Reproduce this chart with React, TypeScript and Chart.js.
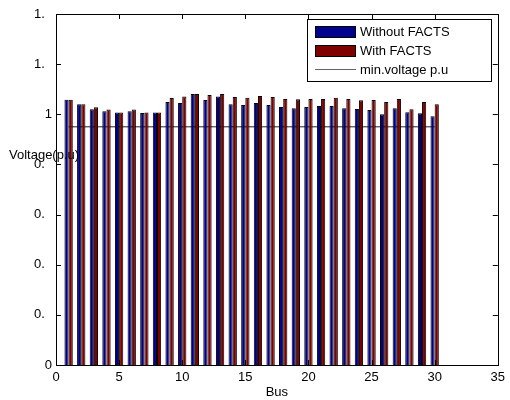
import React, { useEffect, useRef } from "react";
import { Chart, registerables } from "chart.js";

Chart.register(...registerables);

// Bus numbers 1..30
const buses: number[] = [
  1, 2, 3, 4, 5, 6, 7, 8, 9, 10, 11, 12, 13, 14, 15,
  16, 17, 18, 19, 20, 21, 22, 23, 24, 25, 26, 27, 28, 29, 30,
];

// Bus voltage magnitudes (p.u.)
const withoutFacts: number[] = [
  1.058, 1.04, 1.02, 1.012, 1.007, 1.012, 1.005, 1.007, 1.049, 1.045,
  1.081, 1.057, 1.071, 1.04, 1.037, 1.045, 1.037, 1.029, 1.024, 1.029,
  1.033, 1.033, 1.024, 1.021, 1.017, 1.0, 1.024, 1.008, 1.004, 0.992,
];
const withFacts: number[] = [
  1.058, 1.04, 1.028, 1.019, 1.007, 1.019, 1.007, 1.007, 1.065, 1.071,
  1.081, 1.077, 1.081, 1.069, 1.066, 1.073, 1.069, 1.061, 1.06, 1.061,
  1.061, 1.066, 1.061, 1.056, 1.057, 1.049, 1.061, 1.02, 1.049, 1.04,
];

// Minimum voltage limit, drawn across buses 1..30
const minVoltage = 0.95;
const minVoltageSpan: number[] = [1, 30];

// Y tick labels as printed on the axis (keyed by tick value)
const yTickValues: number[] = [0, 0.2, 0.4, 0.6, 0.8, 1.0, 1.2, 1.4];
const yTickLabels: string[] = ["0", "0.", "0.", "0.", "0.", "1", "1.", "1."];

const seriesNames: string[] = ["Without FACTS", "With FACTS", "min.voltage p.u"];
const seriesColors: string[] = ["#00008f", "#800000", "#333333"];

const FONT = "'Liberation Sans', Arial, Helvetica, sans-serif";
const FS = 13;

// Draws the frame, inward tick marks, the horizontal y title and the legend box
const matlabAxes = {
  id: "matlabAxes",
  afterDraw(chart: any) {
    const { ctx, chartArea: a, scales } = chart;
    const xs = scales.x;
    const ys = scales.y;
    ctx.save();
    ctx.strokeStyle = "#000";
    ctx.lineWidth = 1;
    ctx.strokeRect(Math.round(a.left) + 0.5, Math.round(a.top) + 0.5,
      Math.round(a.right - a.left), Math.round(a.bottom - a.top));
    const tl = 5;
    ctx.beginPath();
    xs.ticks.forEach((t: any) => {
      const px = Math.round(xs.getPixelForValue(t.value)) + 0.5;
      ctx.moveTo(px, a.bottom); ctx.lineTo(px, a.bottom - tl);
      ctx.moveTo(px, a.top); ctx.lineTo(px, a.top + tl);
    });
    ys.ticks.forEach((t: any) => {
      const py = Math.round(ys.getPixelForValue(t.value)) + 0.5;
      ctx.moveTo(a.left, py); ctx.lineTo(a.left + tl, py);
      ctx.moveTo(a.right, py); ctx.lineTo(a.right - tl, py);
    });
    ctx.stroke();

    // y axis title, horizontal
    ctx.fillStyle = "#000";
    ctx.font = `${FS}px ${FONT}`;
    ctx.textAlign = "left";
    ctx.textBaseline = "middle";
    ctx.fillText("Voltage(p.u)", 9, 155);

    // legend
    const lx = 307, ly = 19, lw = 184, lh = 62;
    ctx.fillStyle = "#fff";
    ctx.fillRect(lx, ly, lw, lh);
    ctx.strokeStyle = "#000";
    ctx.strokeRect(lx + 0.5, ly + 0.5, lw, lh);
    const rows = [32, 51, 70];
    ctx.lineWidth = 1;
    [0, 1].forEach((i) => {
      ctx.fillStyle = seriesColors[i];
      ctx.fillRect(315, rows[i] - 6, 41, 12);
      ctx.strokeStyle = "#000";
      ctx.strokeRect(315.5, rows[i] - 5.5, 40, 11);
    });
    ctx.strokeStyle = "#666";
    ctx.beginPath();
    ctx.moveTo(315, rows[2] - 0.5);
    ctx.lineTo(356, rows[2] - 0.5);
    ctx.stroke();
    ctx.fillStyle = "#000";
    ctx.font = `${FS}px ${FONT}`;
    seriesNames.forEach((n, i) => ctx.fillText(n, 360, rows[i]));
    ctx.restore();
  },
};

export default function App() {
  const ref = useRef<HTMLCanvasElement | null>(null);

  useEffect(() => {
    if (!ref.current) return;
    const barStyle = {
      borderColor: "#000",
      borderWidth: 1,
      barPercentage: 1,
      categoryPercentage: 0.66,
      inflateAmount: 0,
    };
    const chart = new Chart(ref.current, {
      type: "bar",
      data: {
        datasets: [
          {
            type: "bar",
            label: seriesNames[0],
            data: buses.map((b, i) => ({ x: b, y: withoutFacts[i] })),
            backgroundColor: seriesColors[0],
            ...barStyle,
          },
          {
            type: "bar",
            label: seriesNames[1],
            data: buses.map((b, i) => ({ x: b, y: withFacts[i] })),
            backgroundColor: seriesColors[1],
            ...barStyle,
          },
          {
            type: "line",
            label: seriesNames[2],
            data: minVoltageSpan.map((x) => ({ x, y: minVoltage })),
            borderColor: "#222",
            borderWidth: 1,
            pointRadius: 0,
            fill: false,
          },
        ],
      } as any,
      options: {
        responsive: false,
        animation: false,
        devicePixelRatio: 1,
        layout: { padding: { top: 14, right: 7, left: 0, bottom: 0 } },
        plugins: {
          legend: { display: false },
          tooltip: { enabled: false },
        },
        scales: {
          x: {
            type: "linear",
            min: 0,
            max: 35,
            offset: false,
            grid: { display: false, drawTicks: false },
            border: { display: false },
            ticks: {
              stepSize: 5,
              color: "#000",
              padding: 5,
              font: { family: FONT, size: FS },
              maxRotation: 0,
            },
            title: {
              display: true,
              text: "Bus",
              color: "#000",
              font: { family: FONT, size: FS },
              padding: { top: 0, bottom: 0 },
            },
            afterFit: (s: any) => { s.height = 35; },
          },
          y: {
            type: "linear",
            min: 0,
            max: 1.4,
            grid: { display: false, drawTicks: false },
            border: { display: false },
            afterBuildTicks: (s: any) => {
              s.ticks = yTickValues.map((v) => ({ value: v }));
            },
            ticks: {
              color: "#000",
              padding: 4,
              font: { family: FONT, size: FS },
              callback: (v: any) => {
                const i = yTickValues.findIndex((t) => Math.abs(t - Number(v)) < 1e-6);
                const lbl = i >= 0 ? yTickLabels[i] : "";
                // keep truncated labels aligned as if a digit followed
                return lbl.endsWith(".") ? lbl + "\u2007" : lbl;
              },
            },
            afterFit: (s: any) => { s.width = 56; },
          },
        },
      },
      plugins: [matlabAxes],
    });
    return () => chart.destroy();
  }, []);

  return (
    <div style={{ position: "fixed", left: 0, top: 0, width: 510, height: 400, background: "#fff" }}>
      <canvas ref={ref} width={510} height={400} style={{ display: "block" }} />
    </div>
  );
}
